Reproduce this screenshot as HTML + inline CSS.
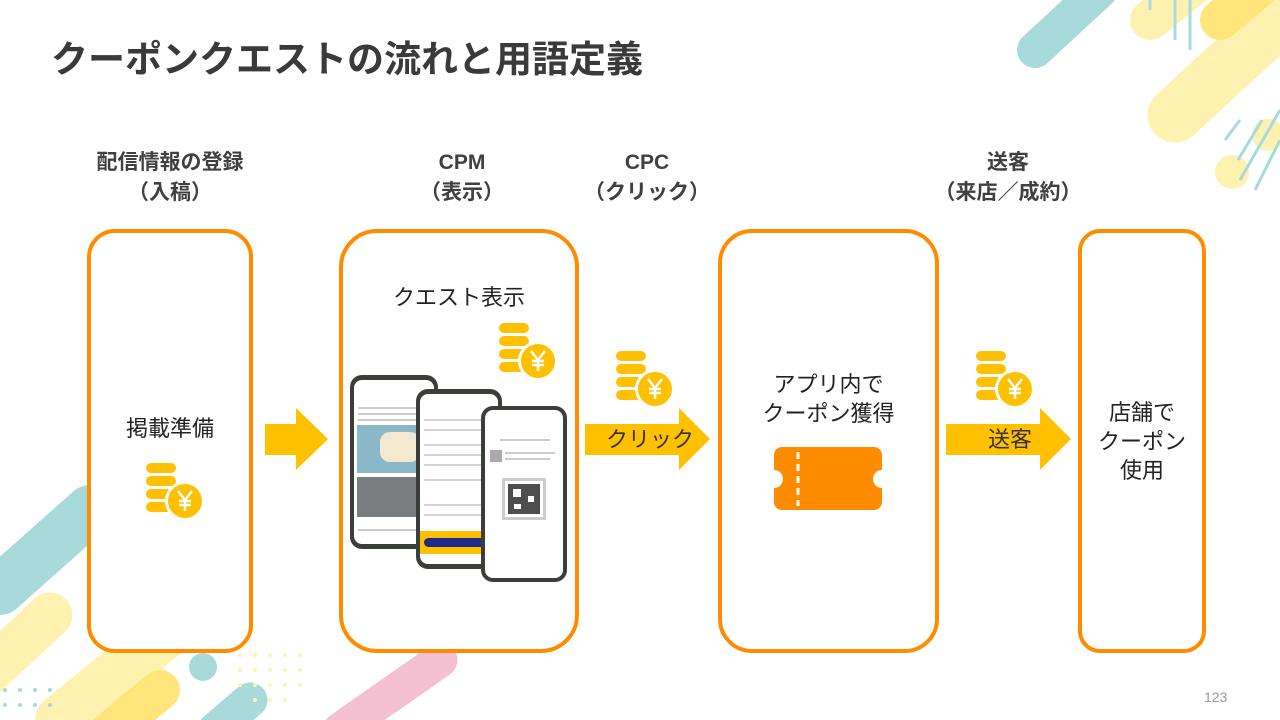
<!DOCTYPE html>
<html><head><meta charset="utf-8">
<style>
*{margin:0;padding:0;box-sizing:border-box}
body{width:1280px;height:720px;overflow:hidden;background:#fff;position:relative;font-family:"Liberation Sans","Noto Sans CJK JP",sans-serif;color:#404040}
.abs{position:absolute}
.title{left:51px;top:34px;font-size:37px;font-weight:bold;color:#3a3a3a;letter-spacing:0px;white-space:nowrap;line-height:52px}
.hd{font-size:21px;font-weight:bold;text-align:center;line-height:30px;color:#404040;white-space:nowrap}
.box{border:4px solid #ff8c00;background:#fff}
.lbl{font-size:22px;text-align:center;line-height:29px;color:#222;white-space:nowrap}
</style></head><body>
<svg class="abs" style="left:0;top:0" width="1280" height="720">
 <!-- top right decorations -->
 <g stroke-linecap="round" fill="none">
  <line x1="1035" y1="50" x2="1100" y2="-10" stroke="#a8dadc" stroke-width="36"/>
  <line x1="1175" y1="115" x2="1300" y2="0" stroke="#fff2b0" stroke-width="55"/>
  <line x1="1150" y1="20" x2="1200" y2="-20" stroke="#fff2b0" stroke-width="40"/>
  <line x1="1220" y1="20" x2="1280" y2="-30" stroke="#ffe57a" stroke-width="40"/>
  <line x1="0" y1="590" x2="90" y2="510" stroke="#a8dadc" stroke-width="50"/>
  <line x1="-20" y1="680" x2="50" y2="615" stroke="#fff2b0" stroke-width="45"/>
  <line x1="60" y1="720" x2="170" y2="630" stroke="#fff2b0" stroke-width="50"/>
  <line x1="100" y1="740" x2="160" y2="690" stroke="#ffe57a" stroke-width="40"/>
  <line x1="215" y1="730" x2="250" y2="700" stroke="#a8dadc" stroke-width="35"/>
  <line x1="340" y1="730" x2="440" y2="660" stroke="#f4c0d2" stroke-width="35"/>
 </g>
 <circle cx="1268" cy="135" r="16" fill="#fff2b0"/>
 <circle cx="1232" cy="172" r="17" fill="#fff2b0"/>
 <g stroke="#a8dadc" stroke-width="3">
  <line x1="1225" y1="140" x2="1240" y2="120"/><line x1="1238" y1="160" x2="1262" y2="120"/>
  <line x1="1240" y1="180" x2="1280" y2="110"/><line x1="1255" y1="190" x2="1280" y2="140"/>
  <line x1="1150" y1="10" x2="1150" y2="0"/><line x1="1175" y1="40" x2="1175" y2="0"/><line x1="1190" y1="50" x2="1190" y2="0"/>
 </g>
 <circle cx="203" cy="667" r="14" fill="#a8dadc"/>
 <g fill="#fff2b0">
  <circle cx="240" cy="655" r="2"/><circle cx="255" cy="655" r="2"/><circle cx="270" cy="655" r="2"/><circle cx="285" cy="655" r="2"/><circle cx="300" cy="655" r="2"/>
  <circle cx="240" cy="670" r="2"/><circle cx="255" cy="670" r="2"/><circle cx="270" cy="670" r="2"/><circle cx="285" cy="670" r="2"/><circle cx="300" cy="670" r="2"/>
  <circle cx="240" cy="685" r="2"/><circle cx="255" cy="685" r="2"/><circle cx="270" cy="685" r="2"/><circle cx="285" cy="685" r="2"/><circle cx="300" cy="685" r="2"/>
  <circle cx="255" cy="700" r="2"/><circle cx="270" cy="700" r="2"/><circle cx="285" cy="700" r="2"/>
 </g>
 <g fill="#a8dadc">
  <circle cx="5" cy="690" r="2"/><circle cx="20" cy="690" r="2"/><circle cx="35" cy="690" r="2"/><circle cx="50" cy="690" r="2"/>
  <circle cx="5" cy="705" r="2"/><circle cx="20" cy="705" r="2"/><circle cx="35" cy="705" r="2"/><circle cx="50" cy="705" r="2"/>
 </g>
</svg>

<div class="abs title">クーポンクエストの流れと用語定義</div>

<div class="abs hd" style="left:70px;width:200px;top:148px">配信情報の登録<br>（入稿）</div>
<div class="abs hd" style="left:362px;width:200px;top:148px">CPM<br>（表示）</div>
<div class="abs hd" style="left:547px;width:200px;top:148px">CPC<br>（クリック）</div>
<div class="abs hd" style="left:908px;width:200px;top:148px">送客<br>（来店／成約）</div>

<div class="abs box" style="left:87px;top:229px;width:166px;height:424px;border-radius:28px"></div>
<div class="abs box" style="left:339px;top:229px;width:240px;height:424px;border-radius:38px"></div>
<div class="abs box" style="left:718px;top:229px;width:221px;height:424px;border-radius:34px"></div>
<div class="abs box" style="left:1078px;top:229px;width:128px;height:424px;border-radius:22px"></div>

<svg class="abs" style="left:0;top:0" width="1280" height="720">
 <defs>
  <g id="coin">
   <rect x="0" y="0" width="30" height="10" rx="5" fill="#ffc000"/>
   <rect x="0" y="13" width="30" height="10" rx="5" fill="#ffc000"/>
   <rect x="0" y="26" width="30" height="10" rx="5" fill="#ffc000"/>
   <rect x="0" y="39" width="30" height="10" rx="5" fill="#ffc000"/>
   <circle cx="39" cy="38" r="20" fill="#fff"/>
   <circle cx="39" cy="38" r="17" fill="#ffc000"/>
   <path d="M32 28 L39 37 L46 28 M39 37 V48 M33 38 H45 M33 42 H45" stroke="#fff" stroke-width="2.5" fill="none"/>
  </g>
 </defs>
 <use href="#coin" x="146" y="463"/>
 <use href="#coin" x="499" y="323"/>
 <use href="#coin" x="616" y="351"/>
 <use href="#coin" x="976" y="351"/>
 <!-- arrows -->
 <polygon points="265,424 296,424 296,408 328,439 296,470 296,455 265,455" fill="#ffc000"/>
 <polygon points="585,424 679,424 679,408 710,439 679,470 679,455 585,455" fill="#ffc000"/>
 <polygon points="946,424 1040,424 1040,408 1071,439 1040,470 1040,455 946,455" fill="#ffc000"/>
 <!-- ticket -->
 <path d="M782 447 H874 a8 8 0 0 1 8 8 V470 a9 9 0 0 0 0 18 V502 a8 8 0 0 1 -8 8 H782 a8 8 0 0 1 -8 -8 V488 a9 9 0 0 0 0 -18 V455 a8 8 0 0 1 8 -8z" fill="#ff8c00"/>
 <line x1="798" y1="452" x2="798" y2="506" stroke="#fff" stroke-width="3" stroke-dasharray="7,5"/>
 <!-- phones -->
 <rect x="350" y="375" width="88" height="174" rx="12" fill="#3a3f3a"/>
 <rect x="354" y="380" width="80" height="164" rx="8" fill="#fff"/>
 <rect x="357" y="425" width="70" height="48" fill="#8ab8c8"/>
 <rect x="380" y="432" width="40" height="30" rx="10" fill="#f4e8d0"/>
 <rect x="357" y="477" width="70" height="40" fill="#7a7e80"/>
 <g stroke="#999" stroke-width="1"><line x1="358" y1="408" x2="428" y2="408"/><line x1="358" y1="414" x2="428" y2="414"/><line x1="358" y1="420" x2="420" y2="420"/><line x1="358" y1="530" x2="425" y2="530"/></g>
 <rect x="416" y="389" width="86" height="180" rx="12" fill="#3a3f3a"/>
 <rect x="420" y="394" width="78" height="170" rx="8" fill="#fff"/>
 <g stroke="#aaa" stroke-width="1"><line x1="424" y1="420" x2="490" y2="420"/><line x1="424" y1="430" x2="490" y2="430"/><line x1="424" y1="445" x2="490" y2="445"/><line x1="424" y1="455" x2="490" y2="455"/><line x1="424" y1="465" x2="490" y2="465"/><line x1="424" y1="480" x2="490" y2="480"/><line x1="424" y1="505" x2="490" y2="505"/><line x1="424" y1="515" x2="490" y2="515"/></g>
 <rect x="420" y="531" width="78" height="23" fill="#ffc000"/>
 <rect x="424" y="538" width="72" height="9" rx="4.5" fill="#1f2a8a"/>
 <rect x="481" y="406" width="86" height="176" rx="12" fill="#3a3f3a"/>
 <rect x="485" y="410" width="78" height="168" rx="8" fill="#fff"/>
 <rect x="490" y="450" width="12" height="12" fill="#aaa"/>
 <g stroke="#999" stroke-width="1"><line x1="500" y1="440" x2="550" y2="440"/><line x1="505" y1="453" x2="555" y2="453"/><line x1="505" y1="459" x2="550" y2="459"/></g>
 <rect x="502" y="478" width="44" height="42" fill="#ccc"/>
 <rect x="505" y="481" width="38" height="36" fill="#fff"/>
 <rect x="508" y="484" width="32" height="30" fill="#222" opacity="0.8"/>
 <rect x="513" y="489" width="8" height="8" fill="#fff"/><rect x="528" y="496" width="6" height="6" fill="#fff"/><rect x="514" y="504" width="7" height="5" fill="#fff"/>
</svg>

<div class="abs lbl" style="left:87px;width:166px;top:414px">掲載準備</div>
<div class="abs lbl" style="left:339px;width:240px;top:283px">クエスト表示</div>
<div class="abs lbl" style="left:718px;width:221px;top:370px">アプリ内で<br>クーポン獲得</div>
<div class="abs lbl" style="left:1078px;width:128px;top:398px">店舗で<br>クーポン<br>使用</div>
<div class="abs lbl" style="left:600px;width:100px;top:425px;color:#333">クリック</div>
<div class="abs lbl" style="left:960px;width:100px;top:425px;color:#333">送客</div>
<div class="abs" style="left:1204px;top:689px;font-size:14px;color:#999">123</div>
</body></html>
